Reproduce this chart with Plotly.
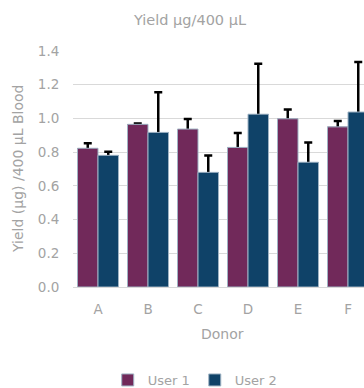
import plotly.graph_objects as go

donors = ["A", "B", "C", "D", "E", "F"]
user1 = [0.823, 0.965, 0.937, 0.828, 0.998, 0.950]
user1_err = [0.030, 0.005, 0.060, 0.085, 0.055, 0.035]
user2 = [0.781, 0.917, 0.680, 1.025, 0.740, 1.038]
user2_err = [0.022, 0.238, 0.100, 0.300, 0.117, 0.297]
y_ticks = [0.0, 0.2, 0.4, 0.6, 0.8, 1.0, 1.2, 1.4]

c1 = "#71295a"
c2 = "#0f4268"
txt = "#a3a3a3"
font = "DejaVu Sans"
hide = 0.03  # drop the lower cap of each error bar inside its bar

fig = go.Figure()
# error-bar carriers (drawn first, so the real bars cover the lower cap)
for name, vals, err, col in [("User 1", user1, user1_err, c1), ("User 2", user2, user2_err, c2)]:
    fig.add_trace(go.Bar(
        x=donors, y=vals, offsetgroup=name, showlegend=False, hoverinfo="skip",
        marker=dict(color=col, line=dict(width=0)),
        error_y=dict(type="data", symmetric=False, array=err, arrayminus=[hide] * len(err),
                     color="black", thickness=2.5, width=4),
    ))
for name, vals, col in [("User 1", user1, c1), ("User 2", user2, c2)]:
    fig.add_trace(go.Bar(
        x=donors, y=vals, name=name, offsetgroup=name,
        marker=dict(color=col, line=dict(width=1, color="#9fb3c4")),
    ))

fig.update_layout(
    width=364, height=388,
    margin=dict(l=73, r=0, t=51, b=101, autoexpand=False),
    paper_bgcolor="white", plot_bgcolor="white",
    barmode="group", bargap=0.18, bargroupgap=0,
    font=dict(family=font, size=12, color=txt),
    title=dict(text="Yield µg/400 µL", x=190 / 364, xanchor="center", y=1 - 20 / 388,
               yanchor="middle", font=dict(size=14.5, color=txt)),
    showlegend=True,
    legend=dict(orientation="h", x=0.42, xanchor="center", yref="container",
                y=8 / 388, yanchor="middle",
                font=dict(size=13, color=txt), traceorder="normal"),
    xaxis=dict(type="category", range=[-0.5, 5.32], showgrid=False, zeroline=False,
               showline=False, ticks="outside", ticklen=10, tickcolor="rgba(0,0,0,0)",
               tickfont=dict(size=13.5, color=txt)),
    yaxis=dict(range=[0, 1.4], tickvals=y_ticks, tickformat=".1f", showgrid=True,
               gridcolor="#d9d9d9", gridwidth=1, zeroline=True, zerolinecolor="#d9d9d9",
               zerolinewidth=1, showline=False, ticks="outside", ticklen=10,
               tickcolor="rgba(0,0,0,0)", tickfont=dict(size=13.5, color=txt)),
    annotations=[
        dict(text="Donor", xref="paper", yref="paper", x=(222 - 73) / 291, y=-47 / 236,
             xanchor="center", yanchor="middle", showarrow=False, font=dict(size=14, color=txt)),
        dict(text="Yield (µg) /400 µL Blood", xref="paper", yref="paper", x=-55 / 291, y=0.5,
             xanchor="center", yanchor="middle", textangle=-90, showarrow=False,
             font=dict(size=14, color=txt)),
    ],
)

fig.write_html("out.html")
